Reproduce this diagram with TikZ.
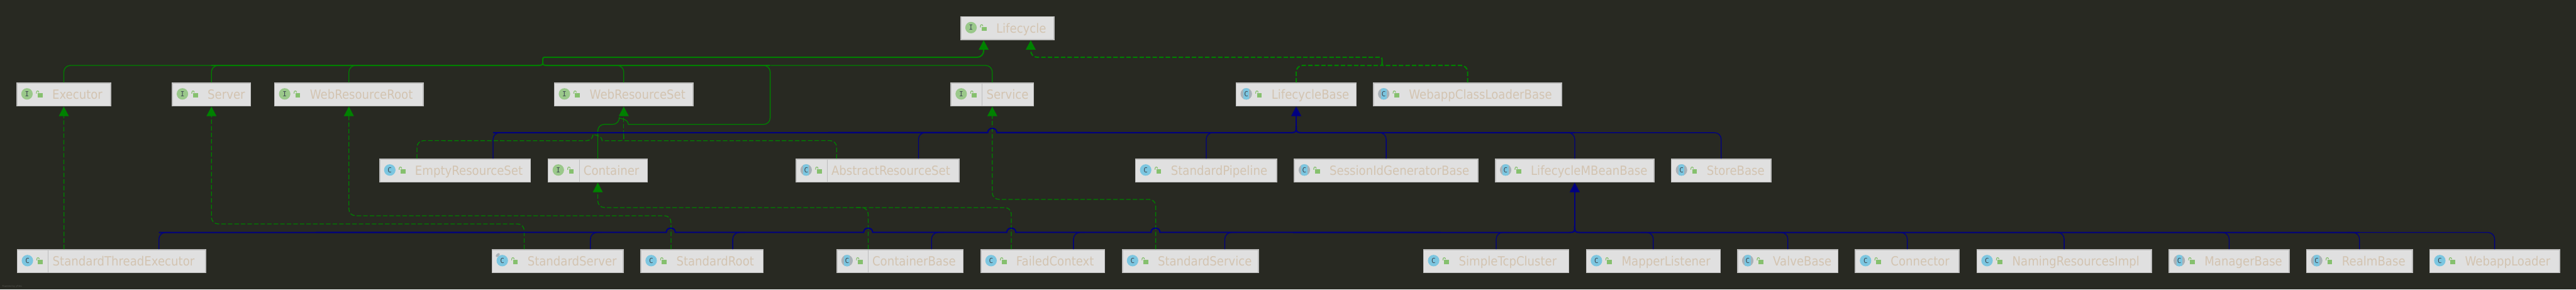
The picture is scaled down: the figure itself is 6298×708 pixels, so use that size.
\documentclass[tikz,border=0pt]{standalone}
\usepackage{fontspec}
\setmainfont{DejaVu Sans}[FakeStretch=0.9]
\newfontfamily\iconfont{DejaVu Sans Mono}
\usetikzlibrary{arrows.meta,calc}
\definecolor{bgdark}{HTML}{282922}
\definecolor{boxfill}{HTML}{E0E0E0}
\definecolor{boxline}{HTML}{BDBDBD}
\definecolor{labeltan}{HTML}{D3C4B1}
\definecolor{ifacegreen}{HTML}{9AC88A}
\definecolor{classblue}{HTML}{7CC6E0}
\definecolor{absgray}{HTML}{A9B2B8}
\definecolor{lockgreen}{HTML}{86C06E}
\definecolor{letterdark}{HTML}{3C4650}
\definecolor{edgegreen}{HTML}{008000}
\definecolor{edgenavy}{HTML}{000080}
\tikzset{
  classbox/.style={draw=boxline,fill=boxfill,line width=0.7pt,minimum height=0.56cm,inner sep=0pt},
  classtext/.style={anchor=base west,inner sep=0pt,text=labeltan,font=\fontsize{8.8}{10}\selectfont},
  iconletter/.style={inner sep=0pt,text=letterdark,font=\iconfont\fontsize{4.8}{5}\selectfont},
  thinedge/.style={line width=0.57pt},
  bus/.style={line width=0.9pt},
  bent/.style={rounded corners=0.16cm},
  implements/.style={dash pattern=on 0.11cm off 0.05cm},
  tip/.style={-{Triangle[width=0.24cm,length=0.235cm]}}
}
\newcommand{\lockicon}[2]{%
  \fill[lockgreen] (#1+52,#2-3) rectangle (#1+64,#2+7);
  \draw[lockgreen,line width=0.5pt] (#1+49,#2-2) -- (#1+49,#2-5) .. controls (#1+49,#2-10) and (#1+55,#2-10) .. (#1+55,#2-5);
}
\newcommand{\iconI}[3]{%
  \fill[ifacegreen] (#1+26,#2-1.5) circle[radius=0.14cm];
  \node[iconletter] (#3-letter) at (#1+26,#2-1.5) {I};
}
\newcommand{\iconC}[3]{%
  \fill[classblue] (#1+26,#2-1.5) circle[radius=0.14cm];
  \node[iconletter] (#3-letter) at (#1+26,#2-1.5) {C};
}
\newcommand{\iconA}[3]{%
  \fill[absgray] (#1+26,#2-1.5) circle[radius=0.14cm];
  \begin{scope}
    \clip (#1+26,#2-1.5) circle[radius=0.14cm];
    \fill[classblue] (#1+19,#2-16) rectangle (#1+33,#2+13);
  \end{scope}
  \node[iconletter] (#3-letter) at (#1+26,#2-1.5) {C};
}
\newcommand{\iconF}[3]{%
  \iconC{#1}{#2}{#3}
  \fill[absgray,rotate around={45:(#1+15,#2-15)}] (#1+15,#2-15) ellipse[x radius=0.06cm,y radius=0.035cm];
}
\newcommand{\classrow}[2]{%
  \foreach \nm/\xa/\xb/\kind/\lbl in {#2} {
    \node[classbox,minimum width={(\xb-\xa-2.5)*0.01cm}] (\nm) at ({(\xa+\xb)/2},#1) {};
    \csname icon\kind\endcsname{\xa}{#1}{\nm}
    \lockicon{\xa}{#1}
    \node[classtext] (\nm-text) at (\xa+87,#1+11) {\lbl};
  }
}
\newcommand{\hop}[2]{-- (#1-11,#2) [sharp corners] .. controls (#1-11,#2-14) and (#1+11,#2-14) .. (#1+11,#2)}
\newcommand{\joinfork}[3]{-- ($(#1)+(#2,0)$) [sharp corners] .. controls (#1) .. ($(#1)+(0,-#3)$)}
\begin{document}
\begin{tikzpicture}[x=0.01cm,y=-0.01cm]
  \useasboundingbox (0,0) rectangle (6298,708);
  \fill[bgdark] (0,0) rectangle (6298,708);

  \classrow{69}{lifecycle/2348/2578/I/Lifecycle}
  \classrow{231}{executor/40/272/I/Executor, server/420/614/I/Server, webroot/670/1036/I/WebResourceRoot,
    webset/1354/1696/I/WebResourceSet, service/2324/2528/I/Service, lifebase/3021/3317/A/LifecycleBase,
    classloader/3357/3819/A/WebappClassLoaderBase}
  \classrow{417}{emptyset/927/1298/C/EmptyResourceSet, container/1339/1584/I/Container,
    abstractset/1945/2346/A/AbstractResourceSet, pipeline/2775/3123/C/StandardPipeline,
    sessionbase/3163/3615/A/SessionIdGeneratorBase, mbeanbase/3655/4045/A/LifecycleMBeanBase,
    storebase/4085/4331/A/StoreBase}
  \classrow{638.5}{threadexec/41/504/C/StandardThreadExecutor, stdserver/1202/1525/F/StandardServer,
    stdroot/1566/1867/C/StandardRoot, containerbase/2045/2356/A/ContainerBase,
    failedctx/2397/2702/C/FailedContext, stdservice/2743/3078/C/StandardService,
    tcpcluster/3479/3837/C/SimpleTcpCluster, mapperlistener/3877/4207/C/MapperListener,
    valvebase/4247/4495/A/ValveBase, connector/4535/4791/C/Connector,
    naming/4832/5261/C/NamingResourcesImpl, managerbase/5302/5598/A/ManagerBase,
    realmbase/5638/5899/A/RealmBase, webapploader/5939/6259/C/WebappLoader}
  \foreach \nm in {threadexec,container,service,abstractset,containerbase}
    \draw[boxline,line width=0.3pt] ($(\nm.north west)+(77,0)$) -- ($(\nm.south west)+(77,0)$);

  \node[inner sep=0pt,anchor=west,text=bgdark!80!white,font=\fontsize{1.7}{2}\selectfont] (poweredby) at (5,700) {Powered by yFiles};

  \foreach \nm/\dx/\port in {threadexec/-116/execOut, threadexec/116/threadUp, stdserver/-82/serverOut,
    stdserver/80/stdserverUp, stdroot/-76/rootOut, stdroot/75/stdrootUp, containerbase/-78/contOut,
    containerbase/77/contUp, failedctx/-77/failOut, failedctx/75/failUp, stdservice/-85/serviceOut,
    stdservice/84/stdserviceUp, emptyset/-93/emptyOut, emptyset/93/emptyUp, abstractset/-100/abstractOut,
    abstractset/100/abstractUp}
    \coordinate (\port) at ($(\nm.north)+(\dx,0)$);
  \coordinate (lifeIn) at ($(lifecycle.south)+(-58,0)$);
  \coordinate (lifeOut) at ($(lifecycle.south)+(57,0)$);
  \coordinate (busTop) at (1327,160);
  \coordinate (busTopMid) at (1883,160);
  \coordinate (busLife) at (3379,160);
  \coordinate (busSet) at (webset.south |- 0,344);
  \coordinate (busHigh) at ($(lifebase.south)+(0,64)$);
  \coordinate (busLow) at ($(mbeanbase.south)+(0,122)$);

  \begin{scope}[edgegreen]
    \foreach \kid/\reach in {executor.north/361,server.north/30,webroot.north/30,webset.north/-30,service.north/-542}
      \draw[thinedge,bent] (\kid) -- (\kid |- busTop) -- ++(\reach,0);
    \draw[bus] (server.north |- busTop) \joinfork{busTop}{-24}{8};
    \draw[bus] (busTopMid) \joinfork{busTop}{24}{8};
    \draw[bus,bent,tip] ($(busTop)+(0,-8)$) .. controls (1327,140) .. (1350,140) -- (lifeIn |- 0,140) -- (lifeIn);
    \draw[thinedge,bent] (container.north) -- ++(0,-84) \hop{1525}{304} -- (1700,304) [rounded corners=0.16cm] -- (1883,304) -- (busTopMid) -- ++(-30,0);

    \draw[thinedge,implements,tip] (execOut) -- (executor.south);
    \draw[thinedge,implements,bent,tip] (serverOut) -- ++(0,-62) -| (server.south);
    \draw[thinedge,implements,bent,tip] (rootOut) -- ++(0,-82) -| (webroot.south);
    \draw[thinedge,implements,bent,tip] (failOut) -- ++(0,-102) -| (container.south);
    \draw[thinedge,implements,bent] (contOut) -- ++(0,-102) -- ++(-30,0);
    \draw[thinedge,implements,bent,tip] (serviceOut) -- ++(0,-122) -| (service.south);

    \draw[thinedge,implements,bent] (emptyOut) -- ++(0,-44) \hop{1461}{344} -- (1500,344) \joinfork{busSet}{-18}{14};
    \draw[thinedge,implements,bent] (abstractOut) -- ++(0,-44) \joinfork{busSet}{18}{14};
    \draw[thinedge,implements,tip] ($(busSet)+(0,-14)$) -- (webset.south);

    \draw[bus,implements,bent] (lifebase.north) -- ++(0,-42) \joinfork{busLife}{-22}{8};
    \draw[bus,implements,bent] (classloader.north) -- ++(0,-42) \joinfork{busLife}{22}{8};
    \draw[bus,implements,bent,tip] ($(busLife)+(0,-8)$) .. controls (3379,140) .. (3356,140) -- (lifeOut |- 0,140) -- (lifeOut);
  \end{scope}

  \begin{scope}[edgenavy]
    \foreach \kid/\reach in {emptyUp/30,abstractUp/30,pipeline.north/30,sessionbase.north/-30,mbeanbase.north/-30,storebase.north/-358}
      \draw[thinedge,bent] (\kid) -- (\kid |- busHigh) -- ++(\reach,0);
    \draw[bus] (emptyUp |- busHigh) \hop{2426}{324} \joinfork{busHigh}{-20}{16};
    \draw[bus] (mbeanbase.north |- busHigh) \joinfork{busHigh}{20}{16};
    \draw[bus,tip] ($(busHigh)+(0,-16)$) -- (lifebase.south);

    \foreach \kid/\reach in {threadUp/30,stdserverUp/30,stdrootUp/30,contUp/30,failUp/30,stdserviceUp/30,tcpcluster.north/30,
      mapperlistener.north/-30,valvebase.north/-30,connector.north/-30,naming.north/-30,managerbase.north/-30,realmbase.north/-30,webapploader.north/-331}
      \draw[thinedge,bent] (\kid) -- (\kid |- busLow) -- ++(\reach,0);
    \draw[bus] (threadUp |- busLow) \hop{1640}{568} \hop{2122.5}{568} \hop{2472.5}{568} \hop{2825}{568} \joinfork{busLow}{-20}{16};
    \draw[bus] (realmbase.north |- busLow) \joinfork{busLow}{20}{16};
    \draw[bus,tip] ($(busLow)+(0,-16)$) -- (mbeanbase.south);
  \end{scope}
\end{tikzpicture}
\end{document}
